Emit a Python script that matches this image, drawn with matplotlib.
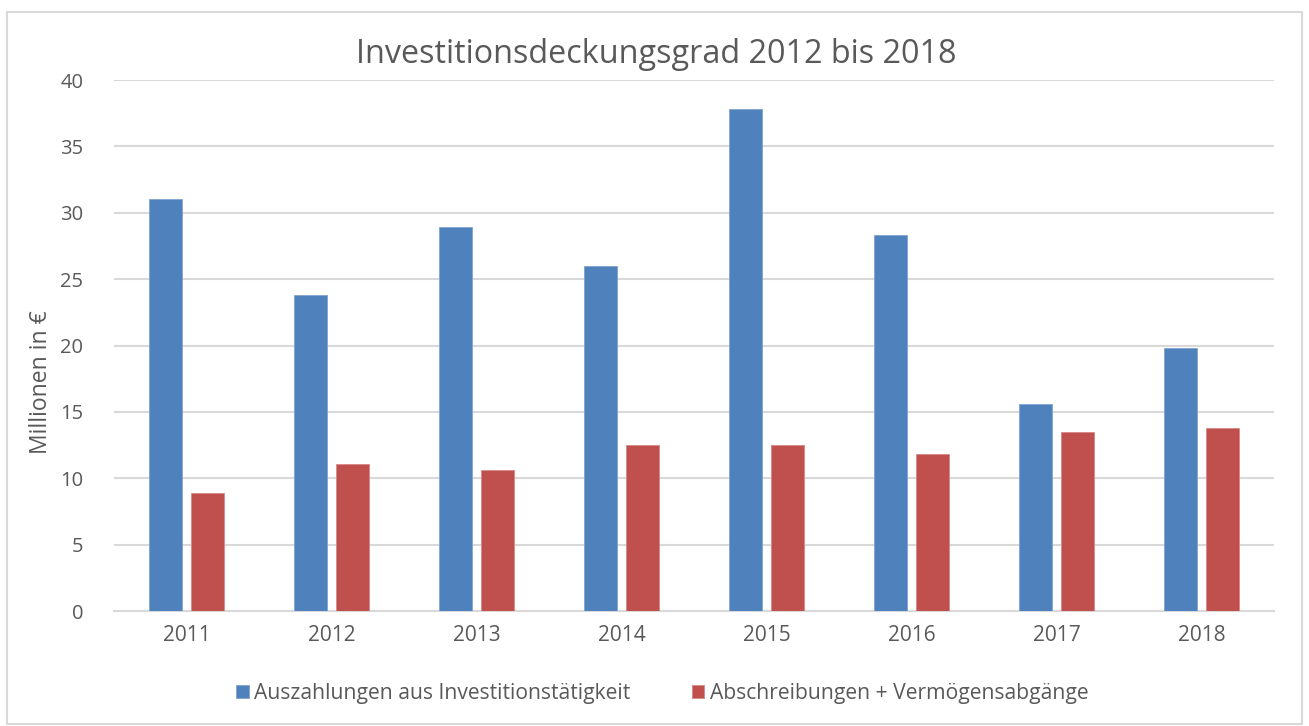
import matplotlib.pyplot as plt
from matplotlib.patches import Rectangle
import numpy as np

years = ["2011", "2012", "2013", "2014", "2015", "2016", "2017", "2018"]
auszahlungen = [31.0, 23.8, 28.9, 26.0, 37.8, 28.3, 15.6, 19.8]
abschreibungen = [8.9, 11.1, 10.6, 12.5, 12.5, 11.8, 13.5, 13.8]

blue = "#4F81BD"
red = "#C0504D"
txt = "#595959"

plt.rcParams["font.family"] = ["Open Sans", "DejaVu Sans"]

fig = plt.figure(figsize=(13.09, 7.26), dpi=100)
ax = fig.add_axes([0.0871, 0.1584, 0.8862, 0.7314])

x = np.arange(len(years))
w = 0.228
off = 0.143
ax.bar(x - off, auszahlungen, w, color=blue, edgecolor="#7FA3D1", linewidth=0.6,
       label="Auszahlungen aus Investitionstätigkeit", zorder=3)
ax.bar(x + off, abschreibungen, w, color=red, edgecolor="#D98885", linewidth=0.6,
       label="Abschreibungen + Vermögensabgänge", zorder=3)

ax.set_xlim(-0.5, len(years) - 0.5)
ax.set_ylim(0, 40)
ax.set_yticks(range(0, 41, 5))
ax.set_xticks(x)
ax.set_xticklabels(years)
ax.grid(axis="y", color="#D9D9D9", linewidth=1.5, zorder=0)
for s in ["top", "right", "left"]:
    ax.spines[s].set_visible(False)
ax.spines["bottom"].set_color("#D9D9D9")
ax.spines["bottom"].set_linewidth(1.5)
ax.tick_params(length=0, labelcolor=txt, pad=10)
ax.tick_params(axis="x", labelsize=15)
ax.tick_params(axis="y", labelsize=14.5, pad=22)

fig.text(0.501, 0.925, "Investitionsdeckungsgrad 2012 bis 2018", ha="center",
         va="center", fontsize=23.3, color=txt)
fig.text(0.031, 0.473, "Millionen in €", rotation=90, ha="center", va="center",
         fontsize=16.5, color=txt)

fig.legend(loc="center", bbox_to_anchor=(0.506, 0.045), ncol=2, frameon=False,
           fontsize=15.2, labelcolor=txt, handlelength=0.6, handleheight=0.6,
           handletextpad=0.25, columnspacing=2.9)

fig.patches.append(Rectangle((0.0053, 0.003), 0.989, 0.98, transform=fig.transFigure,
                             fill=False, edgecolor="#D9D9D9", linewidth=1.5))

fig.savefig("out.png", dpi=100)
